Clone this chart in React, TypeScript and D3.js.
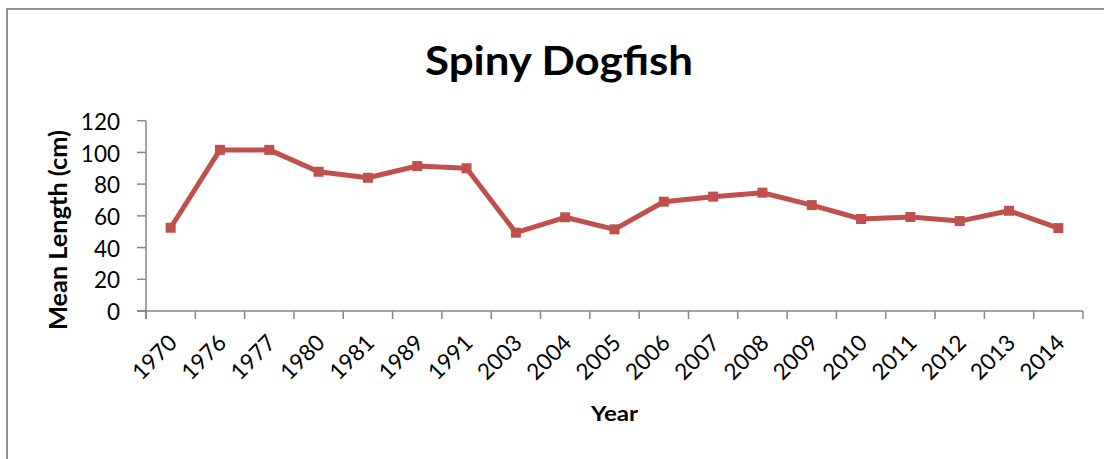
import React, { useEffect, useRef } from "react";
import * as d3 from "d3";

// Mean length of spiny dogfish by survey year
const years: string[] = [
  "1970", "1976", "1977", "1980", "1981", "1989", "1991", "2003", "2004", "2005",
  "2006", "2007", "2008", "2009", "2010", "2011", "2012", "2013", "2014",
];
const meanLength: number[] = [
  52.5, 101.6, 101.6, 87.8, 84.0, 91.4, 90.0, 49.4, 59.1, 51.5,
  68.9, 72.1, 74.6, 66.8, 58.0, 59.3, 56.7, 63.2, 52.3,
];
const yTicks: number[] = [0, 20, 40, 60, 80, 100, 120];

const chartTitle = "Spiny Dogfish";
const yTitle = "Mean Length (cm)";
const xTitle = "Year";

const W = 1104;
const H = 459;
const FONT = "Lato, 'Open Sans', sans-serif";
const AXIS_COLOR = "#868686";
const SERIES_COLOR = "#C0504D";
const TICK_FONT_SIZE = 22.5;

export default function App() {
  const ref = useRef<SVGSVGElement | null>(null);

  useEffect(() => {
    const svg = d3.select(ref.current);
    svg.selectAll("*").remove();

    const plot = { left: 146, right: 1083, top: 120.7, bottom: 311 };

    const x = d3.scaleBand<string>().domain(years).range([plot.left, plot.right]).padding(0);
    const y = d3.scaleLinear().domain([0, 120]).range([plot.bottom, plot.top]);

    // outer chart frame
    svg.append("rect")
      .attr("x", 7).attr("y", 9)
      .attr("width", W + 20).attr("height", H + 20)
      .attr("fill", "#fff")
      .attr("stroke", AXIS_COLOR).attr("stroke-width", 1.8);

    // title
    svg.append("text")
      .attr("x", 559).attr("y", 75)
      .attr("text-anchor", "middle")
      .attr("font-family", FONT).attr("font-weight", 700)
      .attr("font-size", 40.5)
      .attr("textLength", 268).attr("lengthAdjust", "spacingAndGlyphs")
      .attr("fill", "#000")
      .text(chartTitle);

    // y axis
    const gy = svg.append("g");
    gy.append("line")
      .attr("x1", plot.left).attr("x2", plot.left)
      .attr("y1", y(120)).attr("y2", plot.bottom + 8)
      .attr("stroke", AXIS_COLOR).attr("stroke-width", 1.5);
    yTicks.forEach((t) => {
      gy.append("line")
        .attr("x1", plot.left - 9).attr("x2", plot.left)
        .attr("y1", y(t)).attr("y2", y(t))
        .attr("stroke", AXIS_COLOR).attr("stroke-width", 1.5);
      gy.append("text")
        .attr("x", 120).attr("y", y(t) + 1)
        .attr("dy", "0.36em")
        .attr("text-anchor", "end")
        .attr("font-family", FONT).attr("font-size", TICK_FONT_SIZE)
        .attr("fill", "#000")
        .text(String(t));
    });

    // x axis
    const gx = svg.append("g");
    gx.append("line")
      .attr("x1", plot.left - 9).attr("x2", plot.right)
      .attr("y1", plot.bottom).attr("y2", plot.bottom)
      .attr("stroke", AXIS_COLOR).attr("stroke-width", 1.5);
    const bounds = [...years.map((d) => x(d) as number), plot.right];
    bounds.forEach((bx) => {
      gx.append("line")
        .attr("x1", bx).attr("x2", bx)
        .attr("y1", plot.bottom).attr("y2", plot.bottom + 8)
        .attr("stroke", AXIS_COLOR).attr("stroke-width", 1.5);
    });
    years.forEach((d) => {
      const cx = (x(d) as number) + x.bandwidth() / 2;
      gx.append("text")
        .attr("transform", `translate(${cx + 2},${338.6}) rotate(-45)`)
        .attr("dy", "0.36em")
        .attr("text-anchor", "end")
        .attr("font-family", FONT).attr("font-size", TICK_FONT_SIZE)
        .attr("fill", "#000")
        .text(d);
    });

    // axis titles
    svg.append("text")
      .attr("transform", `translate(66.7,230) rotate(-90)`)
      .attr("text-anchor", "middle")
      .attr("font-family", FONT).attr("font-weight", 700)
      .attr("font-size", 24.7)
      .attr("textLength", 200).attr("lengthAdjust", "spacingAndGlyphs")
      .attr("fill", "#000")
      .text(yTitle);

    svg.append("text")
      .attr("x", (plot.left + plot.right) / 2).attr("y", 421)
      .attr("text-anchor", "middle")
      .attr("font-family", FONT).attr("font-weight", 700)
      .attr("font-size", 21.5)
      .attr("textLength", 47).attr("lengthAdjust", "spacingAndGlyphs")
      .attr("fill", "#000")
      .text(xTitle);

    // series line
    const pts = years.map((d, i) => ({ d, v: meanLength[i] }));
    const line = d3.line<{ d: string; v: number }>()
      .x((p) => (x(p.d) as number) + x.bandwidth() / 2)
      .y((p) => y(p.v));
    svg.append("path")
      .datum(pts)
      .attr("d", line)
      .attr("fill", "none")
      .attr("stroke", SERIES_COLOR)
      .attr("stroke-width", 5)
      .attr("stroke-linejoin", "round");

    // square markers
    const ms = 10;
    svg.append("g").selectAll("rect")
      .data(pts)
      .join("rect")
      .attr("x", (p) => (x(p.d) as number) + x.bandwidth() / 2 - ms / 2)
      .attr("y", (p) => y(p.v) - ms / 2)
      .attr("width", ms).attr("height", ms)
      .attr("fill", SERIES_COLOR);
  }, []);

  return (
    <svg
      ref={ref}
      width={W}
      height={H}
      style={{ position: "absolute", left: 0, top: 0, display: "block", background: "#fff" }}
    />
  );
}
